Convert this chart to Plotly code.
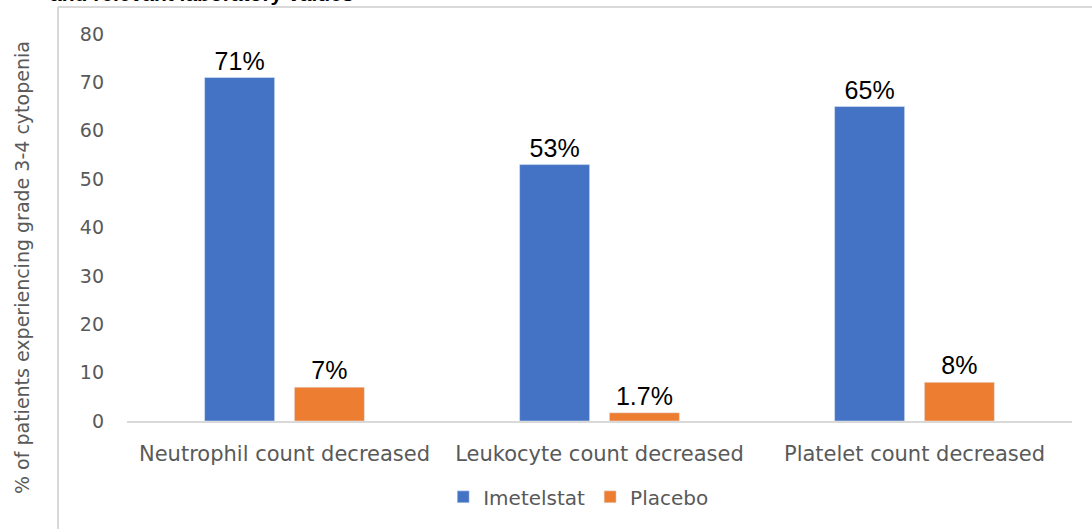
import plotly.graph_objects as go

# Grade 3-4 cytopenia rates by laboratory parameter
categories = ["Neutrophil count decreased", "Leukocyte count decreased", "Platelet count decreased"]
imetelstat = [71, 53, 65]
placebo = [7, 1.7, 8]
imetelstat_labels = ["71%", "53%", "65%"]
placebo_labels = ["7%", "1.7%", "8%"]
y_ticks = [0, 10, 20, 30, 40, 50, 60, 70, 80]

BLUE = "#4472C4"
ORANGE = "#ED7D31"
GREY_TEXT = "#595959"
FRAME = "#d9d9d9"
SANS = "DejaVu Sans, Verdana, sans-serif"

label_font = dict(family="Liberation Sans, Arial, sans-serif", size=25, color="#000000")

fig = go.Figure()
fig.add_trace(go.Bar(
    name="Imetelstat", x=categories, y=imetelstat, marker_color=BLUE,
    text=imetelstat_labels, textposition="outside", textfont=label_font,
    cliponaxis=False,
))
fig.add_trace(go.Bar(
    name="Placebo", x=categories, y=placebo, marker_color=ORANGE,
    text=placebo_labels, textposition="outside", textfont=label_font,
    cliponaxis=False,
))

fig.update_layout(
    width=1092, height=529,
    margin=dict(l=127, r=20, t=34, b=108),
    paper_bgcolor="white", plot_bgcolor="white",
    barmode="group", bargap=0.43, bargroupgap=0.22,
    font=dict(family=SANS, color=GREY_TEXT),
    showlegend=True,
    legend=dict(
        orientation="h", x=0.478, y=-0.196, xanchor="center", yanchor="middle",
        font=dict(size=20, color=GREY_TEXT), itemwidth=30, traceorder="normal",
    ),
)

fig.update_yaxes(
    range=[0, 80], tickvals=y_ticks, showgrid=False, zeroline=False,
    showline=False, ticks="", tickfont=dict(size=19, color=GREY_TEXT),
    ticklabelstandoff=22,
)
fig.update_xaxes(
    showline=True, linecolor=FRAME, linewidth=2, ticks="",
    tickfont=dict(size=21, color=GREY_TEXT), ticklabelstandoff=13,
)

# Vertical axis title
fig.add_annotation(
    text="% of patients experiencing grade 3-4 cytopenia",
    xref="paper", yref="paper", x=(22 - 127) / 945, y=(421 - 268) / 387,
    textangle=-90, showarrow=False, xanchor="center", yanchor="middle",
    font=dict(size=19, color=GREY_TEXT),
)

# Heading above the chart frame
fig.add_annotation(
    text="<b>and relevant laboratory values</b>",
    xref="paper", yref="paper", x=(355 - 127) / 945, y=(421 + 7) / 387,
    showarrow=False, xanchor="right", yanchor="middle",
    font=dict(family="Liberation Sans, Arial, sans-serif", size=21, color="#000000"),
)

# Chart frame: left and top border lines
left_x = (58 - 127) / 945
top_y = (421 - 7) / 387
fig.add_shape(type="line", xref="paper", yref="paper",
              x0=left_x, x1=left_x, y0=-0.4, y1=top_y,
              line=dict(color=FRAME, width=2))
fig.add_shape(type="line", xref="paper", yref="paper",
              x0=left_x, x1=1.1, y0=top_y, y1=top_y,
              line=dict(color=FRAME, width=2))

fig.write_html("out.html")
